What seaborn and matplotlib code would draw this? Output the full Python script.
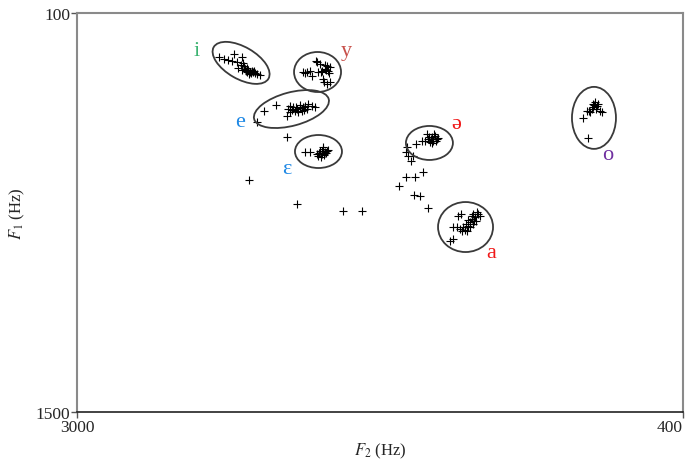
import matplotlib
matplotlib.use("Agg")
import matplotlib.pyplot as plt
import seaborn as sns
import pandas as pd
from matplotlib.patches import Ellipse
from matplotlib.transforms import ScaledTranslation

# ---------------- data (F2, F1 in Hz) ----------------
i_f2 = [2391, 2369, 2352, 2326, 2335, 2314, 2292, 2288, 2283, 2309, 2292, 2271, 2258,
        2245, 2236, 2228, 2266, 2279, 2249, 2271, 2215, 2262, 2241, 2253, 2296, 2275]
i_f1 = [254, 261, 265, 244, 268, 272, 254, 275, 286, 293, 300, 307, 307,
        307, 311, 314, 300, 297, 304, 293, 318, 314, 304, 311, 282, 304]

y_f2 = [2030, 2013, 2000, 1992, 1970, 1957, 1949, 1936, 1927, 1923, 1915, 1945, 1927,
        1915, 1940, 1975, 1936, 1953, 1966, 1919, 1932, 2022]
y_f1 = [307, 307, 304, 321, 272, 279, 304, 297, 286, 304, 290, 332, 349,
        342, 342, 268, 282, 307, 307, 311, 300, 311]

e_f2 = [2198, 2146, 2099, 2095, 2086, 2073, 2056, 2043, 2035, 2030, 2022, 2009, 1992,
        1979, 2052, 2065, 2078, 2013, 2043, 2060, 2026, 2086, 2228, 2099]
e_f1 = [444, 423, 461, 437, 426, 430, 437, 433, 444, 430, 426, 419, 426,
        430, 447, 444, 440, 437, 423, 430, 440, 447, 482, 535]

eps_f2 = [2022, 2000, 1970, 1957, 1949, 1945, 1936, 1966, 1927, 1953, 1945, 1940, 1932,
          1962, 1923, 1949]
eps_f1 = [588, 588, 595, 584, 595, 577, 588, 602, 584, 605, 570, 598, 591,
          591, 580, 584]

other_f2 = [2262, 2056, 1859, 1777]
other_f1 = [686, 770, 795, 795]

schwa_f2 = [1546, 1498, 1494, 1477, 1473, 1464, 1455, 1451, 1486, 1507, 1477, 1468, 1520,
            1481, 1460, 1490,
            1584, 1588, 1580, 1558, 1567, 1516, 1588, 1550, 1618, 1554, 1528, 1494]
schwa_f1 = [560, 525, 542, 535, 549, 532, 542, 539, 553, 549, 556, 525, 549,
            542, 549, 535,
            570, 588, 602, 602, 619, 658, 675, 675, 707, 739, 742, 784]

a_f2 = [1365, 1352, 1301, 1284, 1280, 1292, 1305, 1314, 1322, 1331, 1344, 1357, 1370,
        1387, 1348, 1335, 1327, 1301, 1288, 1305, 1400, 1387, 1271, 1314, 1297, 1322]
a_f1 = [812, 805, 805, 798, 805, 816, 823, 833, 847, 840, 851, 858, 851,
        851, 865, 861, 865, 840, 830, 812, 900, 893, 812, 851, 830, 826]

o_f2 = [829, 808, 812, 799, 790, 786, 778, 769, 765, 756, 748, 786, 773, 803, 782]
o_f1 = [468, 539, 444, 447, 437, 419, 412, 426, 419, 444, 447, 430, 437, 444, 423]

vowels = ["i", "y", "e", "ɛ", "ə", "a", "o"]
label_f2 = [2485, 1846, 2301, 2099, 1374, 1224, 722]
label_f1 = [233, 233, 482, 647, 486, 942, 598]
label_colors = ["#3cb371", "#c8504a", "#1e88e5", "#1e88e5", "#f01818", "#f01818", "#7030a0"]

ell_f2 = [2296, 1968, 2080, 1964, 1488, 1333, 782]
ell_f1 = [275, 307, 437, 586, 556, 851, 468]

x_ticks = [3000, 400]
y_ticks = [100, 1500]

# ---------------- build table ----------------
groups = [("i", i_f2, i_f1), ("y", y_f2, y_f1), ("e", e_f2, e_f1), ("ɛ", eps_f2, eps_f1),
          ("-", other_f2, other_f1), ("ə", schwa_f2, schwa_f1), ("a", a_f2, a_f1),
          ("o", o_f2, o_f1)]
rows = []
for g, xs, ys in groups:
    for xv, yv in zip(xs, ys):
        rows.append({"vowel": g, "F2": xv, "F1": yv})
df = pd.DataFrame(rows)

# ---------------- figure ----------------
sns.set_theme(style="white")
plt.rcParams["font.family"] = ["Liberation Serif", "DejaVu Serif"]
plt.rcParams["mathtext.fontset"] = "stix"

fig = plt.figure(figsize=(6.88, 4.64), dpi=100)
ax = fig.add_axes([77 / 688, 1 - 413 / 464, 606 / 688, 399 / 464])

sns.scatterplot(data=df, x="F2", y="F1", marker="+", color="black", s=28,
                linewidth=0.8, ax=ax, legend=False)

ax.set_xlim(3000, 400)
ax.set_ylim(1500, 100)
ax.set_xticks(x_ticks)
ax.set_yticks(y_ticks)
ax.set_xticklabels([str(v) for v in x_ticks], fontsize=12.5)
ax.set_yticklabels([str(v) for v in y_ticks], fontsize=12.5)
ax.get_xticklabels()[-1].set_horizontalalignment("right")
ax.tick_params(axis="both", direction="out", length=4, width=1, color="#555555", pad=1,
               bottom=True, left=True)
ax.set_xlabel(r"$F_2$ (Hz)", fontsize=12, labelpad=4)
ax.set_ylabel(r"$F_1$ (Hz)", fontsize=12, labelpad=6)

for side in ["left", "top", "right"]:
    ax.spines[side].set_color("#8a8a8a")
    ax.spines[side].set_linewidth(1.5)
ax.spines["bottom"].set_color("#222222")
ax.spines["bottom"].set_linewidth(1.2)

# ellipses (sizes in inches, centered on data)
ell_w = [0.632, 0.47, 0.772, 0.47, 0.47, 0.55, 0.44]
ell_h = [0.32, 0.40, 0.334, 0.33, 0.34, 0.50, 0.62]
ell_a = [-30, 0, 15, 0, 0, 0, 0]
for cx, cy, w, h, ang in zip(ell_f2, ell_f1, ell_w, ell_h, ell_a):
    tr = fig.dpi_scale_trans + ScaledTranslation(cx, cy, ax.transData)
    ax.add_patch(Ellipse((0, 0), w, h, angle=ang, transform=tr, fill=False,
                         edgecolor="#3a3a3a", linewidth=1.3))

for v, lx, ly, c in zip(vowels, label_f2, label_f1, label_colors):
    ax.text(lx, ly, v, color=c, fontsize=16, ha="center", va="center",
            family=["Liberation Serif", "DejaVu Serif"])

fig.savefig("out.png", dpi=100)
